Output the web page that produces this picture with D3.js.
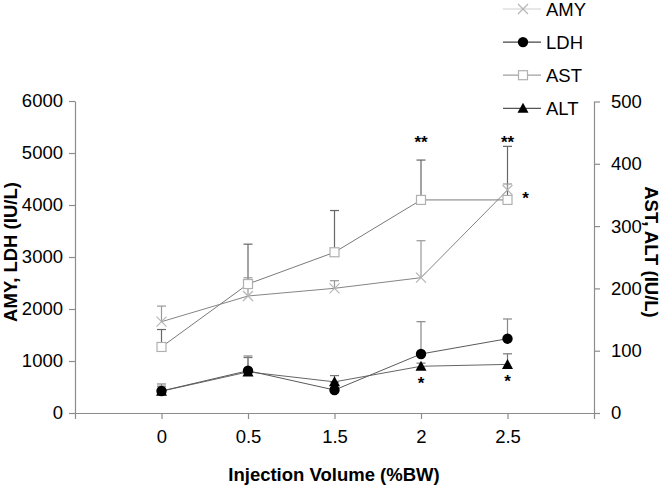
<!DOCTYPE html>
<html>
<head>
<meta charset="utf-8">
<script src="https://cdn.jsdelivr.net/npm/d3@7"></script>
<style>
  body { margin: 0; background: #fff; }
  svg { display: block; font-family: "Liberation Sans", Arial, sans-serif; }
</style>
</head>
<body>
<svg id="chart" width="663" height="486"></svg>
<script>
// ---- data ----
const categories = ["0", "0.5", "1.5", "2", "2.5"];
const amy    = [1756, 2250, 2398, 2602, 4288];
const amyErr = [300, 350, 146, 711, 116];
const ldh    = [423, 813, 442, 1135, 1429];
const ldhErr = [135, 283, 150, 621, 379];
const ast    = [106, 207, 258, 342, 342];
const astErr = [28, 64, 67, 64, 86];
const alt    = [35, 66, 50, 75, 78];
const altErr = [8, 23, 10, 5, 17];
const leftTicks  = [0, 1000, 2000, 3000, 4000, 5000, 6000];
const rightTicks = [0, 100, 200, 300, 400, 500];
const annotations = [
  { cat: 3, axis: "right", value: 406, text: "**", pos: "above" },
  { cat: 4, axis: "right", value: 428, text: "**", pos: "above" },
  { cat: 4, axis: "left",  value: 4288, text: "*", pos: "right" },
  { cat: 3, axis: "right", value: 75, text: "*", pos: "below" },
  { cat: 4, axis: "right", value: 78, text: "*", pos: "below" }
];

const svg = d3.select("#chart");
const x = d3.scaleLinear().domain([-1, 5]).range([75, 594]);
const yL = d3.scaleLinear().domain([0, 6000]).range([413, 101]);
const yR = d3.scaleLinear().domain([0, 500]).range([413, 101.5]);

const axisColor = "#8c8c8c";
function styleAxis(g) {
  g.selectAll("path.domain").attr("stroke", axisColor).attr("stroke-width", 1.2);
  g.selectAll(".tick line").attr("stroke", axisColor).attr("stroke-width", 1.2);
  g.selectAll(".tick text").attr("fill", "#000").style("font-size", "18.5px")
    .style("font-family", "'Liberation Sans', Arial, sans-serif");
}

// axes
svg.append("g").attr("transform", "translate(75,0)")
  .call(d3.axisLeft(yL).tickValues(leftTicks).tickSize(6).tickSizeOuter(0).tickPadding(6).tickFormat(d3.format("d")))
  .call(styleAxis);
svg.append("g").attr("transform", "translate(594,0)")
  .call(d3.axisRight(yR).tickValues(rightTicks).tickSize(6).tickSizeOuter(0).tickPadding(11).tickFormat(d3.format("d")))
  .call(styleAxis);
svg.append("g").attr("transform", "translate(0,413)")
  .call(d3.axisBottom(x).tickValues([-1, 0, 1, 2, 3, 4, 5]).tickSize(6).tickSizeOuter(0).tickPadding(11)
    .tickFormat(i => (i >= 0 && i < categories.length) ? categories[i] : ""))
  .call(styleAxis);

// axis titles
svg.append("text").attr("x", 334).attr("y", 481).attr("text-anchor", "middle")
  .style("font-size", "18.5px").style("font-weight", "bold").text("Injection Volume (%BW)");
svg.append("text").attr("transform", "translate(17,252) rotate(-90)").attr("text-anchor", "middle")
  .style("font-size", "18.5px").style("font-weight", "bold").text("AMY, LDH (IU/L)");
svg.append("text").attr("transform", "translate(645,252) rotate(90)").attr("text-anchor", "middle")
  .style("font-size", "18.5px").style("font-weight", "bold").text("AST, ALT (IU/L)");

// series definitions
const series = [
  { name: "AST", vals: ast, errs: astErr, y: yR, line: "#7a7a7a", err: "#666", marker: "square" },
  { name: "AMY", vals: amy, errs: amyErr, y: yL, line: "#858585", err: "#999", marker: "cross" },
  { name: "ALT", vals: alt, errs: altErr, y: yR, line: "#666", err: "#777", marker: "triangle" },
  { name: "LDH", vals: ldh, errs: ldhErr, y: yL, line: "#5a5a5a", err: "#888", marker: "circle" }
];

function drawMarker(g, type, cx, cy) {
  if (type === "circle") {
    g.append("circle").attr("cx", cx).attr("cy", cy).attr("r", 5.2).attr("fill", "#000");
  } else if (type === "triangle") {
    g.append("path").attr("d", `M${cx},${cy - 5.5}L${cx + 5.5},${cy + 4.5}L${cx - 5.5},${cy + 4.5}Z`).attr("fill", "#000");
  } else if (type === "square") {
    g.append("rect").attr("x", cx - 4.5).attr("y", cy - 4.5).attr("width", 9).attr("height", 9)
      .attr("fill", "#fff").attr("stroke", "#b0b0b0").attr("stroke-width", 1.2);
  } else if (type === "cross") {
    g.append("path").attr("d", `M${cx - 5},${cy - 5}L${cx + 5},${cy + 5}M${cx - 5},${cy + 5}L${cx + 5},${cy - 5}`)
      .attr("stroke", "#b5b5b5").attr("stroke-width", 1.2).attr("fill", "none");
  }
}

const plot = svg.append("g");
// error bars
series.forEach(s => {
  s.vals.forEach((v, i) => {
    const cx = x(i), cy = s.y(v), ty = s.y(v + s.errs[i]);
    plot.append("line").attr("x1", cx).attr("x2", cx).attr("y1", cy).attr("y2", ty)
      .attr("stroke", s.err).attr("stroke-width", 1.2);
    plot.append("line").attr("x1", cx - 4.5).attr("x2", cx + 4.5).attr("y1", ty).attr("y2", ty)
      .attr("stroke", s.err).attr("stroke-width", 1.2);
  });
});
// lines
series.forEach(s => {
  const line = d3.line().x((d, i) => x(i)).y(d => s.y(d));
  plot.append("path").attr("d", line(s.vals)).attr("fill", "none")
    .attr("stroke", s.line).attr("stroke-width", 1);
});
// markers
series.forEach(s => {
  s.vals.forEach((v, i) => drawMarker(plot, s.marker, x(i), s.y(v)));
});

// annotations
annotations.forEach(a => {
  const sc = a.axis === "right" ? yR : yL;
  let ax = x(a.cat), ay = sc(a.value);
  if (a.pos === "above") ay = 148;
  if (a.pos === "below") ay = ay + 23;
  if (a.pos === "right") { ax = ax + 18; ay = ay + 14; }
  svg.append("text").attr("x", ax).attr("y", ay).attr("text-anchor", "middle")
    .style("font-size", "17px").style("font-weight", "bold").text(a.text);
});

// legend
const legendItems = [
  { name: "AMY", marker: "cross", line: "#d0d0d0" },
  { name: "LDH", marker: "circle", line: "#444" },
  { name: "AST", marker: "square", line: "#a0a0a0" },
  { name: "ALT", marker: "triangle", line: "#555" }
];
const lg = svg.append("g");
legendItems.forEach((d, i) => {
  const cy = 9 + i * 33.1;
  lg.append("line").attr("x1", 503).attr("x2", 541).attr("y1", cy).attr("y2", cy)
    .attr("stroke", d.line).attr("stroke-width", 1.2);
  drawMarker(lg, d.marker, 523, cy);
  lg.append("text").attr("x", 546).attr("y", cy + 6.5).style("font-size", "18.5px").text(d.name);
});
</script>
</body>
</html>
